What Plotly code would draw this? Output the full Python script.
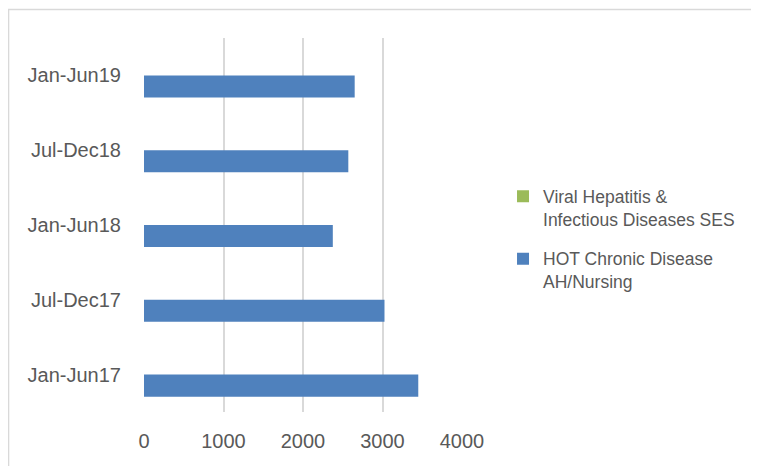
import plotly.graph_objects as go

# ── Data ──────────────────────────────────────────────────────────────────────
periods = ["Jan-Jun17", "Jul-Dec17", "Jan-Jun18", "Jul-Dec18", "Jan-Jun19"]
hot_chronic = [3450, 3025, 2375, 2570, 2650]
viral_hep = [0, 0, 0, 0, 0]
x_ticks = [0, 1000, 2000, 3000, 4000]

# ── Style ─────────────────────────────────────────────────────────────────────
BLUE = "#4F81BD"
GREEN = "#9BBB59"
GRID = "#D9D9D9"
TEXT = "#595959"
FONT = "Liberation Sans"

fig = go.Figure()
fig.add_trace(go.Bar(
    y=periods, x=hot_chronic, orientation="h",
    name="HOT Chronic Disease<br>AH/Nursing",
    marker=dict(color=BLUE, line=dict(width=0)),
    legendgroup="b", legendrank=2,
))
fig.add_trace(go.Bar(
    y=periods, x=viral_hep, orientation="h",
    name="Viral Hepatitis &<br>Infectious Diseases SES",
    marker=dict(color=GREEN, line=dict(width=0)),
    legendgroup="a", legendrank=1,
))

# outer chart frame (left/top edges visible, right/bottom run off the page)
fig.add_shape(type="rect", xref="paper", yref="paper",
              x0=-0.426, x1=2.0, y0=-0.3, y1=1.076,
              line=dict(color=GRID, width=1.5), layer="below")

fig.update_layout(
    width=751, height=458,
    paper_bgcolor="white", plot_bgcolor="white",
    font=dict(family=FONT, color=TEXT, size=20),
    margin=dict(l=136, r=297, t=30, b=54, autoexpand=False),
    barmode="group", bargap=0.41, bargroupgap=0,
    xaxis=dict(range=[0, 4000], tickvals=x_ticks, showgrid=True, gridcolor=GRID,
               gridwidth=1.5, zeroline=False, showline=False, ticks="",
               ticklabelstandoff=15, tickfont=dict(size=20)),
    yaxis=dict(showgrid=False, zeroline=False, showline=False, ticks="",
               ticklabelstandoff=22, tickfont=dict(size=20)),
    legend=dict(x=1.129, y=0.625, xanchor="left", yanchor="top",
                traceorder="grouped", tracegroupgap=14, valign="top",
                font=dict(size=17.5, color=TEXT), bgcolor="rgba(0,0,0,0)"),
    showlegend=True,
)

fig.write_html("out.html")
